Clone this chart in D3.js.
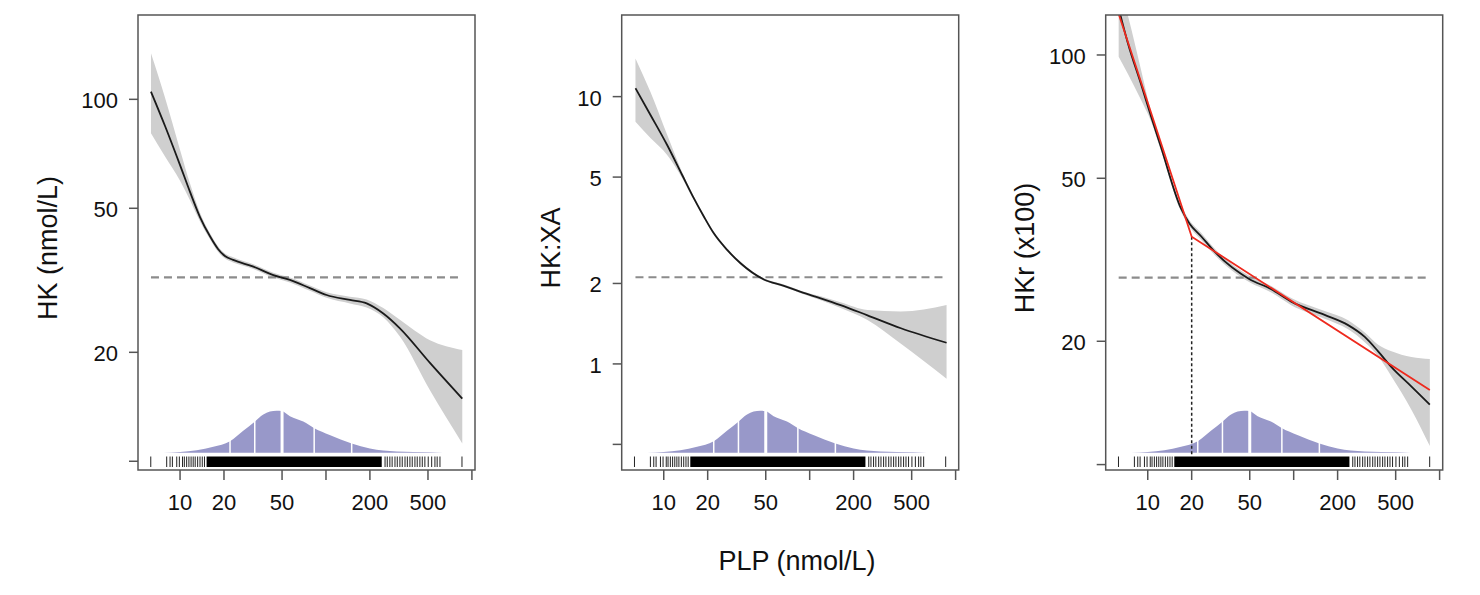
<!DOCTYPE html>
<html>
<head>
<meta charset="utf-8">
<script src="https://cdn.jsdelivr.net/npm/d3@7"></script>
<style>
  html, body { margin: 0; padding: 0; background: #fff; }
  svg { display: block; font-family: "Liberation Sans", Arial, Helvetica, sans-serif; }
</style>
</head>
<body>
<svg id="chart" width="1480" height="595"></svg>
<script>
// ---------------- data ----------------
const xTicks = [10, 20, 50, 100, 200, 500, 1000];
const xTickLabels = ["10", "20", "50", "", "200", "500", ""];
const xTitle = "PLP (nmol/L)";

// Panel 1: HK (nmol/L)
const hkX  = [6.32, 7.89, 10, 11.7, 13.7, 16.0, 18.2, 20.3, 23.1, 31.8, 43.6, 56.6, 77.6, 101, 146, 190, 247, 321, 516, 859];
const hkY  = [105, 84.4, 65.8, 55.5, 47.3, 41.9, 38.6, 36.9, 36.0, 34.5, 32.7, 31.7, 30.1, 28.8, 27.9, 27.3, 25.6, 23.3, 18.7, 14.9];
const hkHi = [134, 101, 72.5, 58.5, 48.6, 42.7, 39.3, 37.5, 36.6, 35.0, 33.2, 32.2, 30.6, 29.3, 28.5, 28.0, 26.5, 24.6, 21.6, 20.3];
const hkLo = [80.6, 69.5, 59.6, 52.6, 46.0, 41.1, 37.9, 36.3, 35.4, 34.0, 32.2, 31.2, 29.6, 28.3, 27.3, 26.6, 25.0, 22.1, 15.7, 11.2];
const hkRef = 32.2;
const hkYTicks = [10, 20, 50, 100];
const hkYTickLabels = ["", "20", "50", "100"];

// Panel 2: HK:XA
const xaX  = [6.40, 8.11, 10.55, 13.37, 16.06, 18.82, 22.03, 27.2, 33.6, 48.5, 66.6, 86.8, 119, 163, 249, 422, 867];
const xaY  = [10.75, 8.54, 6.59, 5.09, 4.17, 3.56, 3.08, 2.67, 2.38, 2.07, 1.96, 1.86, 1.76, 1.66, 1.52, 1.36, 1.20];
const xaHi = [13.9, 10.4, 7.2, 5.22, 4.24, 3.61, 3.12, 2.70, 2.41, 2.09, 1.98, 1.88, 1.79, 1.70, 1.59, 1.57, 1.66];
const xaLo = [8.06, 7.0, 6.05, 4.96, 4.10, 3.51, 3.04, 2.64, 2.35, 2.05, 1.94, 1.84, 1.73, 1.62, 1.46, 1.19, 0.88];
const xaRef = 2.11;
const xaYTicks = [0.5, 1, 2, 5, 10];
const xaYTickLabels = ["", "1", "2", "5", "10"];

// Panel 3: HKr (x100)
const hkrX  = [6.32, 7.3, 9.0, 10.5, 12.3, 16.9, 19.3, 23.2, 28.7, 49.5, 70.2, 96.2, 163, 236, 307, 379, 468, 642, 857];
const hkrY  = [130, 107, 84.8, 71.1, 59.7, 42.2, 38.8, 36.1, 33.1, 28.4, 26.8, 25.0, 23.2, 21.9, 20.5, 18.9, 17.3, 15.5, 14.0];
const hkrHi = [150, 125, 91.9, 73, 61, 43, 39.5, 36.8, 33.7, 28.9, 27.3, 25.5, 23.7, 22.5, 21.0, 19.6, 18.9, 18.3, 18.1];
const hkrLo = [99, 90, 77.6, 69, 58.5, 41.4, 38.1, 35.4, 32.5, 27.9, 26.3, 24.5, 22.7, 21.4, 19.9, 18.4, 16.4, 13.6, 11.1];
const hkrRef = 28.6;
const hkrYTicks = [10, 20, 50, 100];
const hkrYTickLabels = ["", "20", "50", "100"];
// segmented (piecewise log-log) fit, breakpoint at PLP = 20
const segX = [6.32, 20, 857];
const segY = [126, 36.0, 15.2];
const breakX = 20;
const breakYBottom = 10.5;

// PLP distribution (relative density on log scale) and quantile cuts
const densX = [7.7, 13.0, 16.9, 22.0, 27.1, 32.3, 37.2, 41.3, 45.9, 49.7, 56.6, 69.9, 83.2, 106, 150, 200, 305, 515, 635];
const densY = [0, 0.06, 0.14, 0.27, 0.52, 0.73, 0.91, 0.98, 1.0, 0.99, 0.87, 0.74, 0.58, 0.42, 0.22, 0.10, 0.03, 0.01, 0];
const densCuts = [22, 32.5, 50, 83, 150];
const densMedian = 50;

// rug of PLP observations: individual sparse values + solid dense range
const rugSparse = [6.3, 8.1, 8.54, 8.86, 9.49, 9.89, 10.4, 10.7, 11.1, 11.5, 11.9, 12.3, 12.7, 13.2, 13.7, 14.2, 14.7,
  254, 263, 274, 284, 297, 308, 321, 333, 348, 361, 376, 390, 407, 422, 440, 457, 476, 502, 530, 558, 578, 604, 855];
const rugDense = [15.2, 241];

// ---------------- layout ----------------
const plotTop = 15, plotBottom = 470, boxW = 337;
const xDomain = [5.15, 1050];
const panels = [
  { left: 138,   yDomain: [9.46, 171], x: hkX,  y: hkY,  hi: hkHi,  lo: hkLo,  ref: hkRef,  yTicks: hkYTicks,  yLabels: hkYTickLabels,  title: "HK (nmol/L)", titleX: 57 },
  { left: 621.7, yDomain: [0.401, 20.2], x: xaX, y: xaY, hi: xaHi, lo: xaLo, ref: xaRef, yTicks: xaYTicks, yLabels: xaYTickLabels, title: "HK:XA", titleX: 560 },
  { left: 1105.7, yDomain: [9.7, 125.2], x: hkrX, y: hkrY, hi: hkrHi, lo: hkrLo, ref: hkrRef, yTicks: hkrYTicks, yLabels: hkrYTickLabels, title: "HKr (x100)", titleX: 1033.5, seg: true }
];

const svg = d3.select("#chart");
const boxColor = "#555";

panels.forEach((p, i) => {
  const xs = d3.scaleLog().domain(xDomain).range([p.left, p.left + boxW]);
  const ys = d3.scaleLog().domain(p.yDomain).range([plotBottom, plotTop]);
  const ds = d3.scaleLinear().domain([0, 1]).range([452.7, 410.7]);

  const clipId = "clip" + i;
  svg.append("clipPath").attr("id", clipId)
    .append("rect").attr("x", p.left).attr("y", plotTop).attr("width", boxW).attr("height", plotBottom - plotTop);

  const g = svg.append("g").attr("clip-path", `url(#${clipId})`);

  // density
  const dens = densX.map((v, k) => [v, densY[k]]);
  g.append("path").datum(dens)
    .attr("fill", "#9898c9")
    .attr("d", d3.area().x(d => xs(d[0])).y0(ds(0)).y1(d => ds(d[1])).curve(d3.curveMonotoneX));
  densCuts.forEach(c => {
    g.append("line").attr("x1", xs(c)).attr("x2", xs(c)).attr("y1", ds(0) + 1).attr("y2", ds(1.05))
      .attr("stroke", "#fff").attr("stroke-width", c === densMedian ? 3 : 1.5);
  });

  // rug
  g.append("rect").attr("x", xs(rugDense[0])).attr("y", 456.5)
    .attr("width", xs(rugDense[1]) - xs(rugDense[0])).attr("height", 10.5).attr("fill", "#000");
  g.selectAll(".rug").data(rugSparse).enter().append("line")
    .attr("x1", d => xs(d)).attr("x2", d => xs(d)).attr("y1", 456.5).attr("y2", 467)
    .attr("stroke", "#222").attr("stroke-width", 1);

  // confidence band
  const band = p.x.map((v, k) => [v, p.lo[k], p.hi[k]]);
  g.append("path").datum(band)
    .attr("fill", "#cfcfcf")
    .attr("d", d3.area().x(d => xs(d[0])).y0(d => ys(d[1])).y1(d => ys(d[2])).curve(d3.curveMonotoneX));

  // reference dashed line
  g.append("line")
    .attr("x1", xs(p.x[0])).attr("x2", xs(p.x[p.x.length - 1]))
    .attr("y1", ys(p.ref)).attr("y2", ys(p.ref))
    .attr("stroke", "#8c8c8c").attr("stroke-width", 2.2).attr("stroke-dasharray", "8,5");

  // fitted curve
  const line = p.x.map((v, k) => [v, p.y[k]]);
  g.append("path").datum(line)
    .attr("fill", "none").attr("stroke", "#1a1a1a").attr("stroke-width", 1.8)
    .attr("d", d3.line().x(d => xs(d[0])).y(d => ys(d[1])).curve(d3.curveMonotoneX));

  if (p.seg) {
    g.append("line")
      .attr("x1", xs(breakX)).attr("x2", xs(breakX))
      .attr("y1", ys(segY[1])).attr("y2", ys(breakYBottom))
      .attr("stroke", "#222").attr("stroke-width", 1.5).attr("stroke-dasharray", "3,2.5");
    const seg = segX.map((v, k) => [v, segY[k]]);
    g.append("path").datum(seg)
      .attr("fill", "none").attr("stroke", "#ee2a1e").attr("stroke-width", 1.8)
      .attr("d", d3.line().x(d => xs(d[0])).y(d => ys(d[1])));
  }

  // box
  svg.append("rect").attr("x", p.left).attr("y", plotTop).attr("width", boxW).attr("height", plotBottom - plotTop)
    .attr("fill", "none").attr("stroke", boxColor).attr("stroke-width", 1.5);

  // x axis
  const xa = svg.append("g");
  xTicks.forEach((t, k) => {
    xa.append("line").attr("x1", xs(t)).attr("x2", xs(t)).attr("y1", plotBottom).attr("y2", plotBottom + 10)
      .attr("stroke", boxColor).attr("stroke-width", 1.5);
    if (xTickLabels[k]) {
      xa.append("text").attr("x", xs(t)).attr("y", 510).attr("text-anchor", "middle")
        .attr("font-size", 22).attr("fill", "#111").text(xTickLabels[k]);
    }
  });

  // y axis
  const ya = svg.append("g");
  p.yTicks.forEach((t, k) => {
    ya.append("line").attr("x1", p.left - 9).attr("x2", p.left).attr("y1", ys(t)).attr("y2", ys(t))
      .attr("stroke", boxColor).attr("stroke-width", 1.5);
    if (p.yLabels[k]) {
      ya.append("text").attr("x", p.left - 20).attr("y", ys(t) + 9).attr("text-anchor", "end")
        .attr("font-size", 22).attr("fill", "#111").text(p.yLabels[k]);
    }
  });

  // y title
  svg.append("text")
    .attr("transform", `translate(${p.titleX},248) rotate(-90)`)
    .attr("text-anchor", "middle").attr("font-size", 27).attr("fill", "#111")
    .text(p.title);
});

// x title
svg.append("text").attr("x", 797).attr("y", 570).attr("text-anchor", "middle")
  .attr("font-size", 27).attr("fill", "#111").text(xTitle);
</script>
</body>
</html>
